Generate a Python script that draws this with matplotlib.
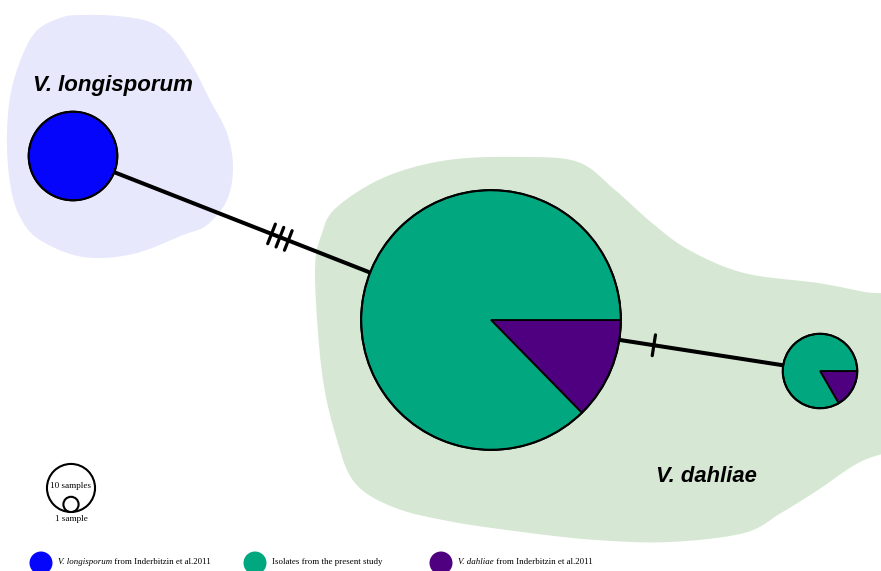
import numpy as np
import matplotlib
matplotlib.use("Agg")
import matplotlib.pyplot as plt
from matplotlib.patches import Wedge, Circle, Polygon

# ---------------- data ----------------
hap_names = ["Vl", "H1", "H2"]
hap_x = [73, 491, 820]
hap_y = [156, 320, 371]
# samples per group: [V. longisporum, present study, V. dahliae]
hap_counts = [[34, 0, 0], [0, 255, 37], [0, 20, 4]]
group_colors = ["#0505fb", "#00a77f", "#4f0080"]
group_labels_italic = ["V. longisporum", "", "V. dahliae"]
group_labels_rest = [" from Inderbitzin et al.2011", "Isolates from the present study",
                     " from Inderbitzin et al.2011"]
edges = [(0, 1), (1, 2)]
mutations = [3, 1]

# cluster outlines (pixel layout)
lav_x = [60, 33, 13, 7, 10, 20, 40, 83, 133, 183, 207, 227, 233, 227, 210, 193, 173, 150, 117, 83]
lav_y = [18, 35, 83, 133, 183, 217, 240, 257, 254, 235, 225, 200, 167, 133, 100, 67, 38, 22, 16, 15]
grn_x = [337, 385, 448, 522, 578, 615, 652, 689, 744, 818, 865, 910, 920, 920, 905, 860, 818, 781,
         744, 670, 596, 522, 448, 393, 355, 337, 322, 315, 322]
grn_y = [207, 177, 160, 157, 162, 190, 223, 250, 273, 283, 292, 300, 350, 420, 445, 462, 490, 513,
         533, 542, 540, 532, 521, 507, 483, 440, 373, 273, 233]

scale_samples = [10, 1]
px_per_sqrt_sample = 7.6

W, H = 881, 571
fig = plt.figure(figsize=(W / 100, H / 100), dpi=100)
ax = fig.add_axes([0, 0, 1, 1])
ax.set_xlim(0, W)
ax.set_ylim(H, 0)
ax.set_aspect("equal")
ax.axis("off")


def smooth_closed(xs, ys, n=20):
    P = np.column_stack([xs, ys]).astype(float)
    m = len(P)
    out = []
    for i in range(m):
        p0, p1, p2, p3 = P[(i - 1) % m], P[i], P[(i + 1) % m], P[(i + 2) % m]
        for t in np.linspace(0, 1, n, endpoint=False):
            t2, t3 = t * t, t * t * t
            out.append(0.5 * ((2 * p1) + (-p0 + p2) * t + (2 * p0 - 5 * p1 + 4 * p2 - p3) * t2
                              + (-p0 + 3 * p1 - 3 * p2 + p3) * t3))
    return np.array(out)


ax.add_patch(Polygon(smooth_closed(lav_x, lav_y), closed=True, fc="#e8e8fc", ec="none", zorder=0))
ax.add_patch(Polygon(smooth_closed(grn_x, grn_y), closed=True, fc="#d6e8d4", ec="none", zorder=0))

# edges with mutation hatches
for (a, b), nm in zip(edges, mutations):
    x0, y0, x1, y1 = hap_x[a], hap_y[a], hap_x[b], hap_y[b]
    ax.plot([x0, x1], [y0, y1], color="black", lw=2.9, zorder=1, solid_capstyle="butt")
    d = np.array([x1 - x0, y1 - y0], float)
    L = np.hypot(*d)
    u = d / L
    nrm = np.array([-u[1], u[0]])
    mid = np.array([x0, y0]) + d * 0.495
    spacing = 9.0
    for k in range(nm):
        c = mid + u * (k - (nm - 1) / 2) * spacing
        p = c - nrm * 10.5
        q = c + nrm * 10.5
        ax.plot([p[0], q[0]], [p[1], q[1]], color="black", lw=2.3, zorder=1,
                solid_capstyle="round")

# nodes as pies
for x, y, counts in zip(hap_x, hap_y, hap_counts):
    tot = sum(counts)
    r = px_per_sqrt_sample * np.sqrt(tot)
    start = 0.0
    order = [2, 1, 0]
    for g in order:
        if counts[g] == 0:
            continue
        ang = 360.0 * counts[g] / tot
        ax.add_patch(Wedge((x, y), r, start, start + ang, fc=group_colors[g], ec="black",
                           lw=1.3, zorder=3))
        start += ang
    ax.add_patch(Circle((x, y), r, fc="none", ec="black", lw=1.5, zorder=4))

# cluster labels
ax.text(113, 85, "V. longisporum", fontsize=16, fontweight="bold", fontstyle="italic",
        family="Liberation Sans", ha="center", va="center", color="black", zorder=5)
ax.text(706, 477, "V. dahliae", fontsize=15.8, fontweight="bold", fontstyle="italic",
        family="Liberation Sans", ha="center", va="center", color="black", zorder=5)

# size scale
sx, sbase = 71, 512
for n in scale_samples:
    r = px_per_sqrt_sample * np.sqrt(n)
    ax.add_patch(Circle((sx, sbase - r), r, fc="white" if n == 1 else "none", ec="black",
                        lw=1.5, zorder=4))
ax.text(sx, 486, "10 samples", fontsize=6.6, family="Liberation Serif", ha="center",
        va="center", zorder=5)
ax.text(sx, 519, "1 sample", fontsize=6.6, family="Liberation Serif", ha="center",
        va="center", zorder=5)

# legend row
leg_cx = [41, 255, 441]
leg_y = 562
fig.canvas.draw()
rend = fig.canvas.get_renderer()
for g in range(3):
    ax.add_patch(Circle((leg_cx[g], leg_y + 1), 11.5, fc=group_colors[g], ec="none", zorder=4,
                        clip_on=False))
    tx = leg_cx[g] + 17
    if group_labels_italic[g]:
        t = ax.text(tx, leg_y, group_labels_italic[g], fontsize=6.4, fontstyle="italic",
                    family="Liberation Serif", ha="left", va="center", zorder=5)
        bb = t.get_window_extent(renderer=rend)
        tx = tx + bb.width
    ax.text(tx, leg_y, group_labels_rest[g], fontsize=6.4, family="Liberation Serif",
            ha="left", va="center", zorder=5)

fig.savefig("out.png", dpi=100, facecolor="white")
